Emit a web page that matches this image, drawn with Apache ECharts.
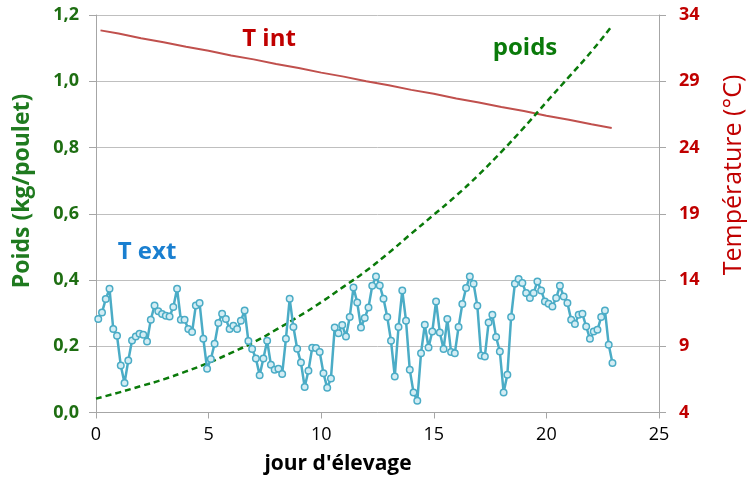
<!DOCTYPE html>
<html>
<head>
<meta charset="utf-8">
<script src="https://cdn.jsdelivr.net/npm/echarts@6/dist/echarts.min.js"></script>
<style>
html,body{margin:0;padding:0;background:#fff;}
#c{width:747px;height:480px;}
</style>
</head>
<body>
<div id="c"></div>
<script>
// ---- data ----
// T ext sampled every 4 h (1/6 day), first sample at day 0.1
var textStart = 0.1;
var textStep = 1 / 6;
var tExt = [
  11.05, 11.55, 12.56, 13.34, 10.3, 9.79, 7.55, 6.22, 7.93, 9.44, 9.74, 9.94, 9.87, 9.36, 11.0, 12.08,
  11.65, 11.43, 11.30, 11.25, 11.96, 13.34, 11.0, 11.0, 10.30, 10.07, 12.08, 12.26, 9.56, 7.30, 8.03,
  9.19, 10.75,
  11.45, 11.05, 10.30, 10.54, 10.30, 10.92, 11.70, 9.39, 8.79, 8.08, 6.82, 8.08, 9.41, 7.60, 7.22,
  7.30, 6.90, 9.56, 12.58, 10.45, 8.81, 7.77, 5.92, 7.15, 8.88, 8.86, 8.56, 6.97, 5.86, 6.57, 10.42,
  9.99, 10.60, 9.74, 11.20,
  13.44, 12.30, 10.42, 11.13, 11.93, 13.56, 14.27, 13.59, 12.58, 11.20, 9.41, 6.72, 10.45, 13.21,
  10.92, 7.22, 5.51, 4.88, 8.48, 10.62, 8.91, 10.11, 12.38, 10.04, 8.79, 11.05, 8.56, 8.48, 10.45,
  12.18, 13.39, 14.27, 13.72, 12.05, 8.30,
  8.23, 10.79, 11.38, 9.69, 8.60, 5.51, 6.85, 11.20, 13.72, 14.07, 13.77, 13.01, 12.64, 13.01, 13.89,
  13.21, 12.38, 12.21, 12.00, 12.64, 13.56, 12.76, 12.26, 11.0, 10.67, 11.38, 11.45, 10.49, 9.56,
  10.11, 10.24, 11.20, 11.70, 9.11, 7.73
];

var poidsDays = [0,1,2,3,4,5,6,7,8,9,10,11,12,13,14,15,16,17,18,19,20,21,22,22.9];
var poids = [0.042,0.060,0.080,0.100,0.124,0.150,0.180,0.212,0.250,0.290,0.333,0.380,0.428,0.482,
             0.540,0.597,0.655,0.718,0.787,0.860,0.937,1.013,1.090,1.166];

var tIntDays = [0.2,1,2,3,4,5,6,7,8,9,10,11,12,13,14,15,16,17,18,19,20,21,22,22.9];
var tInt = [32.84,32.6,32.25,31.95,31.6,31.3,30.95,30.65,30.3,30.0,29.65,29.35,29.0,28.7,28.35,
            28.05,27.7,27.4,27.05,26.75,26.4,26.1,25.75,25.47];

var xTicks = [0,5,10,15,20,25];
var leftTicks = ['0,0','0,2','0,4','0,6','0,8','1,0','1,2'];
var rightTicks = [4,9,14,19,24,29,34];

// ---- build ----
function pairs(xs, ys){ return ys.map(function(v,i){ return [xs[i], v]; }); }
var tExtData = tExt.map(function(v,i){ return [textStart + i*textStep, v]; });

var FONT = '"Open Sans", "Noto Sans", sans-serif';
var GRID_COL = '#bfbfbf';
var AX_COL = '#a6a6a6';

var chart = echarts.init(document.getElementById('c'), null, {renderer:'canvas'});
chart.setOption({
  animation: false,
  backgroundColor: '#fff',
  grid: {left: 96, right: 88, top: 15, bottom: 67.5, containLabel: false},
  xAxis: {
    type: 'value', min: 0, max: 25, interval: 5,
    axisLine: {show: true, lineStyle: {color: AX_COL, width: 1}},
    axisTick: {show: true, length: 6, lineStyle: {color: AX_COL}},
    splitLine: {show: false},
    axisLabel: {color: '#000', fontSize: 18, fontFamily: FONT, margin: 13,
      formatter: function(v){ return xTicks.indexOf(v) >= 0 ? String(v) : ''; }}
  },
  yAxis: [
    {
      type: 'value', min: 0, max: 1.2, interval: 0.2, position: 'left',
      axisLine: {show: true, lineStyle: {color: AX_COL, width: 1}},
      axisTick: {show: true, length: 7, inside: false, lineStyle: {color: AX_COL}},
      splitLine: {show: true, lineStyle: {color: GRID_COL, width: 1}},
      axisLabel: {color: '#1e6e12', fontSize: 18, fontWeight: 'bold', fontFamily: FONT, margin: 17,
        formatter: function(v){ return leftTicks[Math.round(v/0.2)]; }}
    },
    {
      type: 'value', min: 4, max: 34, interval: 5, position: 'right',
      axisLine: {show: true, lineStyle: {color: AX_COL, width: 1}},
      axisTick: {show: true, length: 7, lineStyle: {color: AX_COL}},
      splitLine: {show: false},
      axisLabel: {color: '#c00000', fontSize: 18, fontWeight: 'bold', fontFamily: FONT, margin: 20,
        formatter: function(v){ return rightTicks.indexOf(Math.round(v)) >= 0 ? String(Math.round(v)) : ''; }}
    }
  ],
  series: [
    {
      name: 'T int', type: 'line', yAxisIndex: 1, data: pairs(tIntDays, tInt),
      showSymbol: false, symbol: 'none',
      lineStyle: {color: '#c0504d', width: 2}, z: 3
    },
    {
      name: 'poids', type: 'line', yAxisIndex: 0, data: pairs(poidsDays, poids),
      smooth: 0.5, showSymbol: false, symbol: 'none',
      lineStyle: {color: '#0a7a0a', width: 2.5, type: [6, 4]}, z: 4
    },
    {
      name: 'T ext', type: 'line', yAxisIndex: 1, data: tExtData,
      symbol: 'circle', symbolSize: 6.5, showSymbol: true,
      lineStyle: {color: '#4bacc6', width: 2.5},
      itemStyle: {color: '#d4edf4', borderColor: '#4bacc6', borderWidth: 1.5}, z: 5
    }
  ],
  graphic: [
    {type: 'text', x: 22, y: 191, rotation: Math.PI/2,
      style: {text: 'Poids (kg/poulet)', fill: '#1f7a1f', font: 'bold 23px ' + FONT,
        textAlign: 'center', textVerticalAlign: 'middle'}},
    {type: 'text', x: 734, y: 175, rotation: Math.PI/2,
      style: {text: 'Température (°C)', fill: '#c00000', font: '25px ' + FONT,
        textAlign: 'center', textVerticalAlign: 'middle'}},
    {type: 'text', x: 338, y: 464,
      style: {text: "jour d'élevage", fill: '#000', font: 'bold 21px ' + FONT,
        textAlign: 'center', textVerticalAlign: 'middle'}},
    {type: 'text', x: 269, y: 39,
      style: {text: 'T int', fill: '#c00000', font: 'bold 24px ' + FONT,
        textAlign: 'center', textVerticalAlign: 'middle'}},
    {type: 'text', x: 525, y: 48,
      style: {text: 'poids', fill: '#0a7a0a', font: 'bold 24px ' + FONT,
        textAlign: 'center', textVerticalAlign: 'middle'}},
    {type: 'text', x: 147, y: 252,
      style: {text: 'T ext', fill: '#1a7fd0', font: 'bold 24px ' + FONT,
        textAlign: 'center', textVerticalAlign: 'middle'}}
  ]
});
</script>
</body>
</html>
